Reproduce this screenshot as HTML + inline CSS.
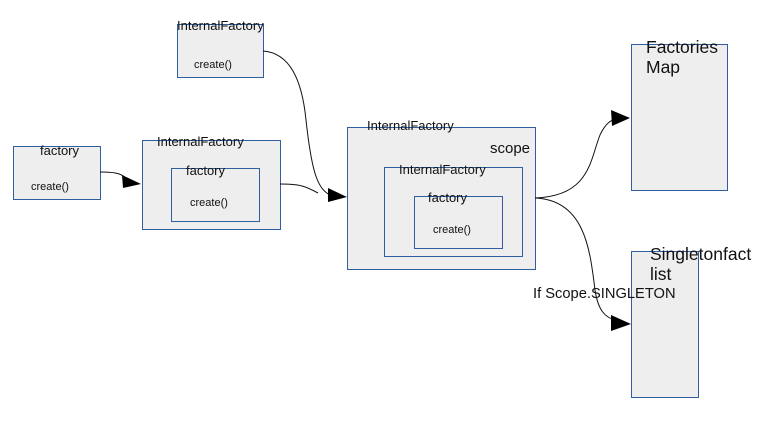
<!DOCTYPE html>
<html><head><style>body{margin:0;background:#fff}svg{display:block}text{font-family:"Liberation Sans",sans-serif;fill:#111}</style></head>
<body>
<svg width="768" height="448" viewBox="0 0 768 448" xmlns="http://www.w3.org/2000/svg">
<g fill="#eeeeee" stroke="#2f5f9f" stroke-width="1">
<rect x="177.5" y="24.5" width="86" height="53"/>
<rect x="13.5" y="146.5" width="87" height="53"/>
<rect x="142.5" y="140.5" width="138" height="89"/>
<rect x="171.5" y="168.5" width="88" height="53"/>
<rect x="347.5" y="127.5" width="188" height="142"/>
<rect x="384.5" y="167.5" width="138" height="89"/>
<rect x="414.5" y="196.5" width="88" height="52"/>
<rect x="631.5" y="44.5" width="96" height="146"/>
<rect x="631.5" y="251.5" width="67" height="146"/>
</g>
<g fill="none" stroke="#111" stroke-width="1">
<path d="M100,172 C118,172 122,174 128,180"/>
<path d="M280,184 C300,184 305,186 318,193"/>
<path d="M263,51 C290,53 302,80 306,120 C312,175 318,190 332,196"/>
<path d="M535,198 C590,196 590,160 600,135 C606,122 612,120 616,119"/>
<path d="M535,198 C585,200 590,250 595,290 C598,310 605,318 616,320"/>
</g>
<g fill="#000">
<polygon points="141,184 122,175 123,188"/>
<polygon points="347,197 328,188 328,202"/>
<polygon points="630,118 611,110 612,126"/>
<polygon points="631,324 611,315 611,331"/>
</g>
<g font-size="13">
<text x="177" y="30">InternalFactory</text>
<text x="40" y="155">factory</text>
<text x="157" y="146">InternalFactory</text>
<text x="186" y="175">factory</text>
<text x="367" y="130">InternalFactory</text>
<text x="399" y="174">InternalFactory</text>
<text x="428" y="202">factory</text>
</g>
<g font-size="11">
<text x="194" y="68">create()</text>
<text x="31" y="190">create()</text>
<text x="190" y="206">create()</text>
<text x="433" y="233">create()</text>
</g>
<text x="490" y="153" font-size="15">scope</text>
<text x="646" y="53" font-size="17.5">Factories</text>
<text x="646" y="73" font-size="17.5">Map</text>
<text x="650" y="260" font-size="17.5">Singletonfact</text>
<text x="650" y="280" font-size="17.5">list</text>
<text x="533" y="298" font-size="14.7">If Scope.SINGLETON</text>
</svg>
</body></html>
